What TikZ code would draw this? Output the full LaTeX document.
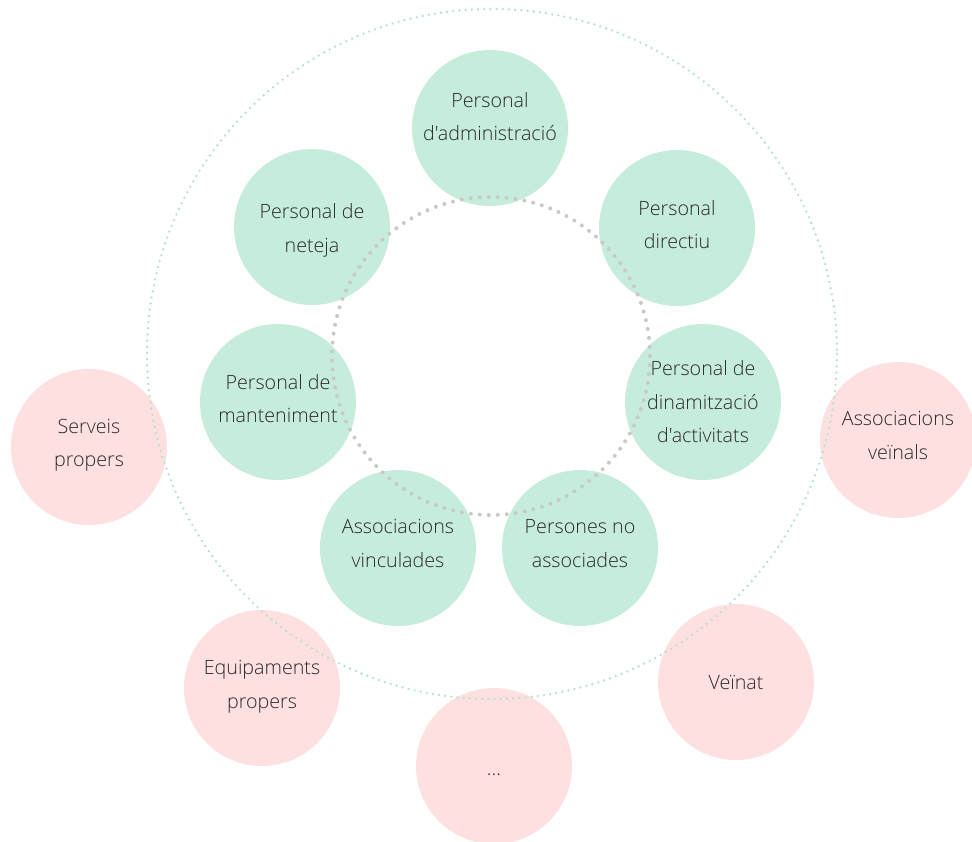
\documentclass[tikz,border=0pt]{standalone}
\usepackage{fontspec}
\newfontfamily\osans{Open Sans Light}
\definecolor{grn}{HTML}{C6ECDB}
\definecolor{pnk}{HTML}{FFE0E0}
\definecolor{txt}{HTML}{2A2A2A}
\definecolor{odot}{HTML}{B5E2CD}
\definecolor{idot}{HTML}{C9C9C9}
\newcommand\lift[2]{\raisebox{#1pt}[\height][\depth]{\begin{tabular}{@{}c@{}}#2\end{tabular}}}
\begin{document}
\begin{tikzpicture}[x=1pt,y=-1pt,
  bub/.style={circle,minimum size=156pt,inner sep=0pt,text=txt,
    font=\osans\fontsize{19.7}{33.5}\selectfont},
  gbub/.style={bub,fill=grn},
  pbub/.style={bub,fill=pnk},
  outerring/.style={draw=odot,line width=2.6pt,line cap=round,dash pattern=on 0pt off 6.2pt},
  innerring/.style={draw=idot,line width=4pt,line cap=round,dash pattern=on 0pt off 9pt}]
\useasboundingbox (0,0) rectangle (972,841);
\node[gbub] (adm) at (490,128) {\lift{10.5}{Personal\\d'administració}};
\node[gbub] (dir) at (677,228) {\lift{2.8}{Personal\\directiu}};
\node[gbub] (din) at (703,402) {\lift{-0.5}{Personal de\\dinamització\\d'activitats}};
\node[gbub] (pna) at (580,548) {\lift{4.3}{Persones no\\associades}};
\node[gbub] (avi) at (398,548) {\lift{4.3}{Associacions\\vinculades}};
\node[gbub] (man) at (278,402) {\lift{2.8}{Personal de\\manteniment}};
\node[gbub] (net) at (312,227) {\lift{-2}{Personal de\\neteja}};
\node[pbub] (ser) at (89,447) {\lift{3.8}{Serveis\\propers}};
\node[pbub] (ave) at (898,440) {\lift{4}{Associacions\\veïnals}};
\node[pbub] (equ) at (262,688) {\lift{3.3}{Equipaments\\propers}};
\node[pbub] (etc) at (494,766) {\lift{-3}{...}};
\node[pbub] (vei) at (736,682) {\lift{-0.5}{Veïnat}};
\coordinate (c1) at (492,354);
\coordinate (c2) at (491,356);
\draw[outerring] (c1) circle[radius=345];
\draw[innerring] (c2) circle[radius=159];
\end{tikzpicture}
\end{document}
